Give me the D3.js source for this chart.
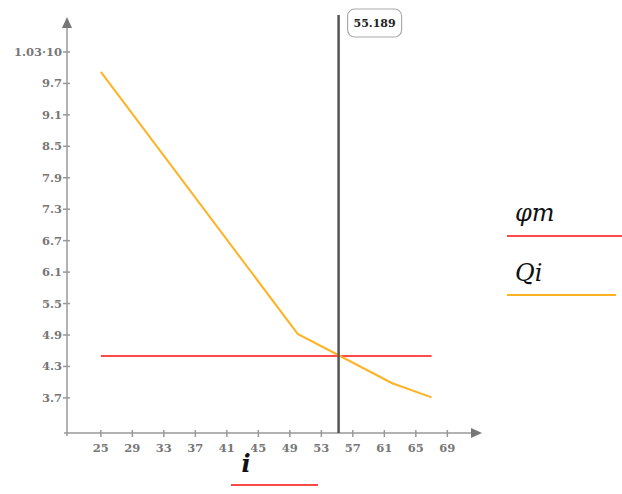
<!DOCTYPE html>
<html>
<head>
    <style>
        body { margin: 0; background: #fff; }
        .tick-label { font: bold 11.5px "DejaVu Serif", serif; fill: #777; }
        .axis-line { stroke: #999; stroke-width: 1.5px; }
    </style>
</head>
<body>
    <script src="https://d3js.org/d3.v7.min.js"></script>
    <script>
        // Data
        var xTicks = [25, 29, 33, 37, 41, 45, 49, 53, 57, 61, 65, 69];
        var yTicks = [3.7, 4.3, 4.9, 5.5, 6.1, 6.7, 7.3, 7.9, 8.5, 9.1, 9.7, 10.3];
        var yTickLabels = ["3.7", "4.3", "4.9", "5.5", "6.1", "6.7", "7.3", "7.9", "8.5", "9.1", "9.7", "1.03\u00b710"];
        var qiX = [25, 50, 62, 67];
        var qiY = [9.92, 4.92, 3.98, 3.71];
        var phiX = [25, 67];
        var phiY = [4.5, 4.5];
        var markerX = 55.189;

        var width = 622, height = 494;

        var svg = d3.select("body").append("svg")
            .attr("width", width)
            .attr("height", height);

        var x = d3.scaleLinear().domain([20.7, 73.4]).range([67, 482]);
        var y = d3.scaleLinear().domain([3.03, 10.91]).range([433, 20]);

        var x0 = x(20.7), y0 = y(3.03);

        // Axes
        svg.append("line").attr("class", "axis-line")
            .attr("x1", x0 - 3).attr("x2", 474).attr("y1", y0).attr("y2", y0);
        svg.append("line").attr("class", "axis-line")
            .attr("x1", x0).attr("x2", x0).attr("y1", y0 + 3).attr("y2", 26);

        // arrows
        svg.append("path").attr("fill", "#777")
            .attr("d", "M482," + y0 + "L471," + (y0 - 5) + "L471," + (y0 + 5) + "Z");
        svg.append("path").attr("fill", "#777")
            .attr("d", "M" + x0 + ",17L" + (x0 - 5) + ",28L" + (x0 + 5) + ",28Z");

        // x ticks
        var xt = svg.selectAll(".xt").data(xTicks).enter().append("g")
            .attr("transform", function (d) { return "translate(" + x(d) + "," + y0 + ")"; });
        xt.append("line").attr("class", "axis-line").attr("y1", -3).attr("y2", 4);
        xt.append("text").attr("class", "tick-label")
            .attr("y", 19).attr("text-anchor", "middle")
            .text(function (d) { return d; });

        // y ticks
        var yt = svg.selectAll(".yt").data(yTicks).enter().append("g")
            .attr("transform", function (d) { return "translate(" + x0 + "," + y(d) + ")"; });
        yt.append("line").attr("class", "axis-line").attr("x1", -4).attr("x2", 3);
        yt.append("text").attr("class", "tick-label")
            .attr("x", -5).attr("dy", "0.35em").attr("text-anchor", "end")
            .text(function (d, i) { return yTickLabels[i]; });

        var line = d3.line()
            .x(function (d) { return x(d[0]); })
            .y(function (d) { return y(d[1]); });

        // phi m line
        svg.append("path")
            .attr("d", line(d3.zip(phiX, phiY)))
            .attr("fill", "none").attr("stroke", "#ff4a4a").attr("stroke-width", 2);

        // Qi line
        svg.append("path")
            .attr("d", line(d3.zip(qiX, qiY)))
            .attr("fill", "none").attr("stroke", "#ffb224").attr("stroke-width", 2);

        // vertical marker
        svg.append("line")
            .attr("x1", x(markerX)).attr("x2", x(markerX))
            .attr("y1", y0).attr("y2", 15)
            .attr("stroke", "#555").attr("stroke-width", 2.5);

        svg.append("rect")
            .attr("x", x(markerX) + 9).attr("y", 9)
            .attr("width", 54).attr("height", 28)
            .attr("rx", 7).attr("fill", "#fff")
            .attr("stroke", "#aaa").attr("stroke-width", 1.2);
        svg.append("text")
            .attr("x", x(markerX) + 36).attr("y", 27)
            .attr("text-anchor", "middle")
            .style("font", "bold 11px 'DejaVu Serif', serif")
            .attr("fill", "#222")
            .text(markerX);

        // x axis label
        svg.append("text")
            .attr("x", 246).attr("y", 472)
            .attr("text-anchor", "middle")
            .style("font", "italic bold 24px 'DejaVu Serif', serif")
            .attr("fill", "#111")
            .text("i");
        svg.append("line")
            .attr("x1", 231).attr("x2", 318).attr("y1", 485).attr("y2", 485)
            .attr("stroke", "#ff4a4a").attr("stroke-width", 2);

        // legend
        var legend = [
            { name: "\u03c6m", color: "#ff4a4a", ty: 221, ly: 236, x2: 622 },
            { name: "Qi", color: "#ffb224", ty: 281, ly: 295, x2: 616 }
        ];
        legend.forEach(function (l) {
            svg.append("text")
                .attr("x", 515).attr("y", l.ty)
                .style("font", "italic 24px 'DejaVu Serif', serif")
                .attr("fill", "#111")
                .text(l.name);
            svg.append("line")
                .attr("x1", 507).attr("x2", l.x2).attr("y1", l.ly).attr("y2", l.ly)
                .attr("stroke", l.color).attr("stroke-width", 2);
        });
    </script>
</body>
</html>
